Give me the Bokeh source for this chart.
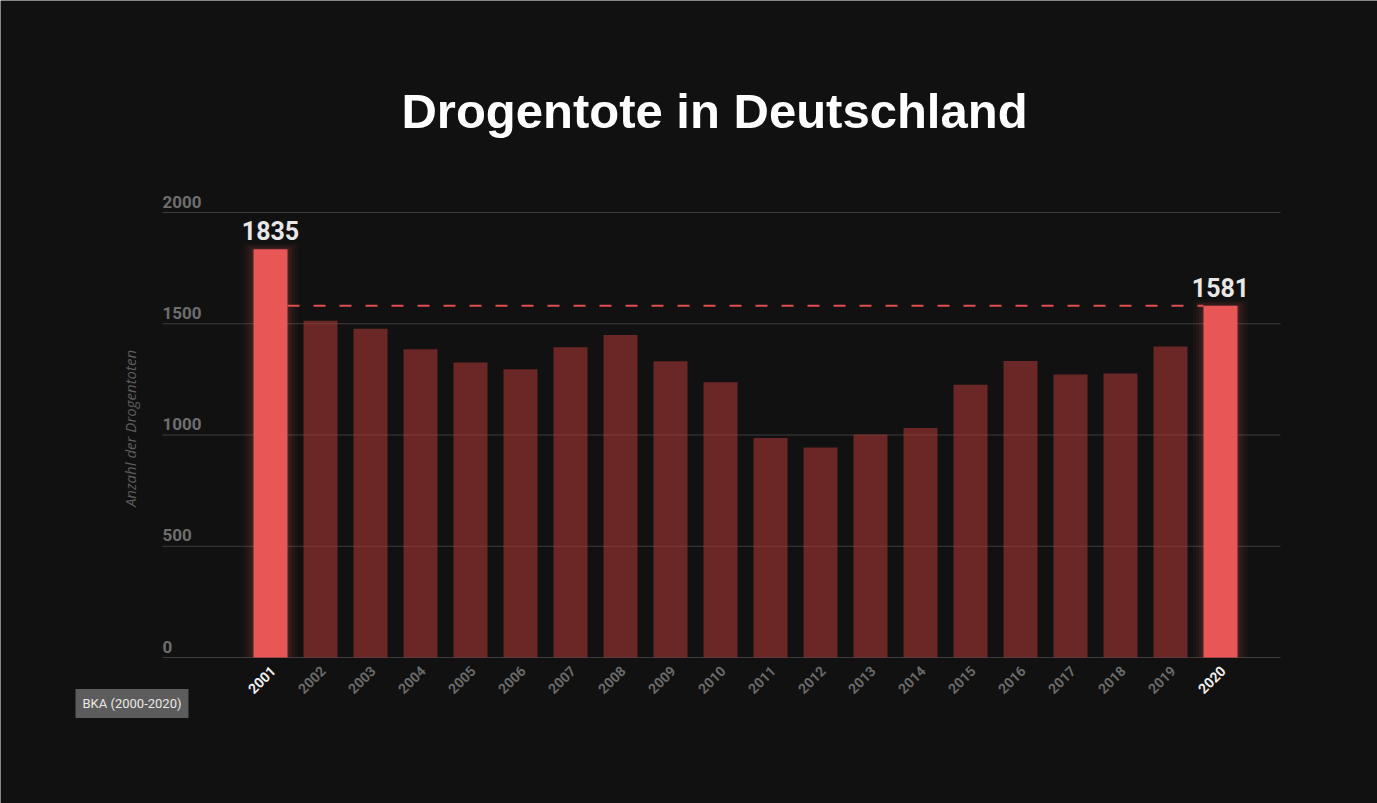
import math
from bokeh.plotting import figure
from bokeh.models import Label, Range1d
from bokeh.core.properties import value
from bokeh.embed import file_html
from bokeh.resources import INLINE

# ---------------- data ----------------
years = [2001, 2002, 2003, 2004, 2005, 2006, 2007, 2008, 2009, 2010,
         2011, 2012, 2013, 2014, 2015, 2016, 2017, 2018, 2019, 2020]
deaths = [1835, 1513, 1477, 1385, 1326, 1296, 1394, 1449, 1331, 1237,
          986, 944, 1002, 1032, 1226, 1333, 1272, 1276, 1398, 1581]
highlight_years = [2001, 2020]
y_ticks = [0, 500, 1000, 1500, 2000]
title_text = "Drogentote in Deutschland"
y_label = "Anzahl der Drogentoten"
source_text = "BKA (2000-2020)"

# ---------------- layout ----------------
W, H = 1377, 803
PX_PER_YEAR = 50.0
X0 = years[0] - 270 / PX_PER_YEAR          # data x at left canvas edge
K = 0.2225                                  # px per unit
BASE_PX = 657                               # pixel row of value 0

def X(px):
    return X0 + px / PX_PER_YEAR

def Y(py):
    return (BASE_PX - py) / K

BG = "#111111"
BRIGHT = "#e95656"
DARK = "#a83535"

p = figure(width=W, height=H, output_backend="svg", toolbar_location=None,
           x_range=Range1d(X(0), X(W)), y_range=Range1d(Y(H), Y(0)),
           x_axis_type=None, y_axis_type=None, min_border=0,
           background_fill_color=BG, border_fill_color=BG,
           outline_line_color=None)
p.grid.visible = False

# grid lines
p.segment(x0=[X(162)] * len(y_ticks), x1=[X(1280)] * len(y_ticks),
          y0=y_ticks, y1=y_ticks, line_color="#3d3d3d", line_width=1)

# y tick labels
p.text(x=[X(162)] * len(y_ticks), y=y_ticks, text=[str(t) for t in y_ticks],
       text_font=value("Roboto"), text_font_size="17px", text_color="#6e6e6e",
       text_align="left", text_baseline="bottom", y_offset=-5,
       text_font_style="bold")

hl_x = [y for y in years if y in highlight_years]
hl_v = [d for y, d in zip(years, deaths) if y in highlight_years]
dk_x = [y for y in years if y not in highlight_years]
dk_v = [d for y, d in zip(years, deaths) if y not in highlight_years]

# glow around highlighted bars
for extra, a in [(0.42, 0.04), (0.30, 0.05), (0.18, 0.07), (0.08, 0.10)]:
    p.vbar(x=hl_x, top=[v + extra * 60 for v in hl_v], bottom=0,
           width=0.68 + extra, fill_color=BRIGHT, fill_alpha=a, line_color=None)

# bars
p.vbar(x=dk_x, top=dk_v, bottom=0, width=0.68, fill_color=DARK,
       fill_alpha=0.6, line_color=None)
p.vbar(x=hl_x, top=hl_v, bottom=0, width=0.68, fill_color=BRIGHT,
       line_color=None)

# dashed reference line at last value
p.segment(x0=[hl_x[0] + 0.34], x1=[hl_x[-1] - 0.34], y0=[hl_v[-1]], y1=[hl_v[-1]],
          line_color="#e04e4e", line_width=2, line_dash="12 14")

# value labels for highlighted bars
p.text(x=hl_x, y=hl_v, text=[str(v) for v in hl_v], text_font=value("Roboto"),
       text_font_size="25px", text_font_style="bold", text_color="#e8e8e8",
       text_align="center", text_baseline="bottom", y_offset=-9)

# x labels (rotated 45 degrees)
for yr in years:
    col = "#eeeeee" if yr in highlight_years else "#6a6a6a"
    p.add_layout(Label(x=yr - 9 / PX_PER_YEAR, y=Y(679), text=str(yr),
                       angle=45, angle_units="deg", text_align="center",
                       text_baseline="middle", text_font="Roboto",
                       text_font_size="14px", text_font_style="bold",
                       text_color=col))

# title
p.add_layout(Label(x=X(714), y=Y(110), text=title_text, text_align="center",
                   text_baseline="middle", text_font="Liberation Sans",
                   text_font_size="49px", text_font_style="bold",
                   text_color="#ffffff"))

# y axis label
p.add_layout(Label(x=X(129), y=Y(428), text=y_label, angle=math.pi / 2,
                   text_align="center", text_baseline="middle",
                   text_font="Open Sans", text_font_size="15px",
                   text_font_style="italic", text_color="#5c5c5c"))

# source box
p.add_layout(Label(x=X(75), y=Y(703), text=source_text, text_align="left",
                   text_baseline="middle", text_font="Roboto",
                   text_font_size="13px", text_color="#e8e8e8",
                   background_fill_color="#5c5c5c", padding=7))

open("out.html", "w").write(file_html(p, INLINE))
